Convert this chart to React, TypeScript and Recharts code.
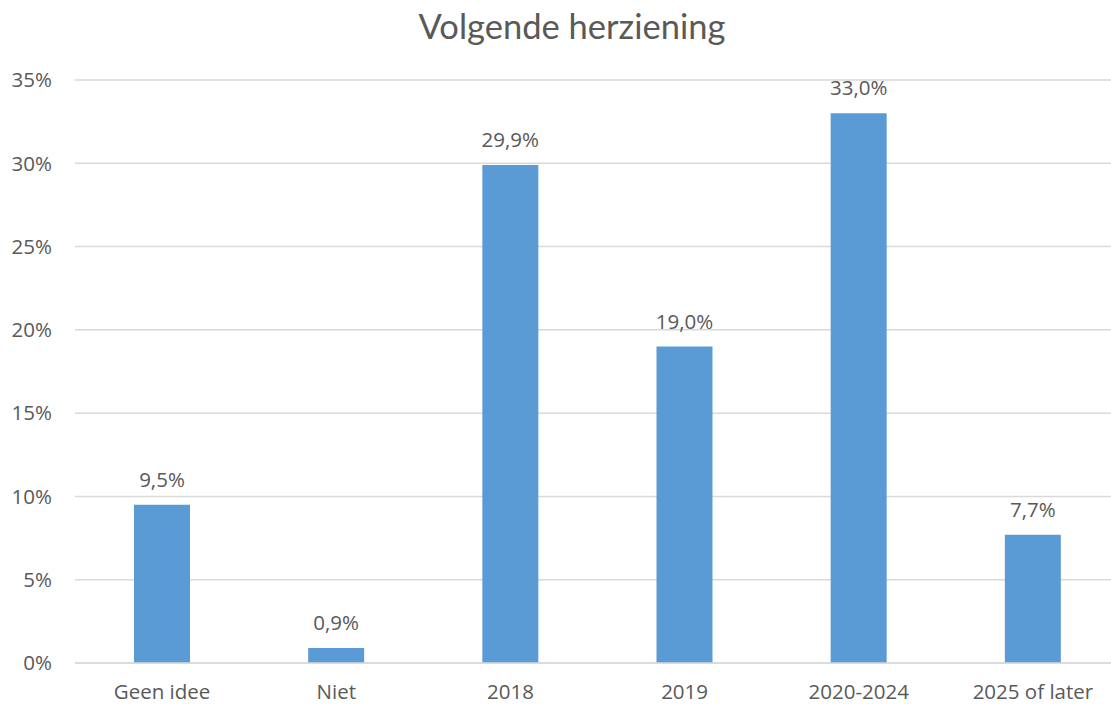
import React from "react";
import {
  BarChart,
  Bar,
  CartesianGrid,
  XAxis,
  YAxis,
  LabelList,
} from "recharts";

const categories = ["Geen idee", "Niet", "2018", "2019", "2020-2024", "2025 of later"];
const shares = [9.5, 0.9, 29.9, 19.0, 33.0, 7.7];
const yTicks = [0, 5, 10, 15, 20, 25, 30, 35];

const data = categories.map((name, i) => ({ name, share: shares[i] }));

const textColor = "#595959";
const tickFont = { fontFamily: "'Open Sans', sans-serif", fontSize: 20.5, fill: textColor };

const pct = (v: number) => `${v}%`;
const pctLabel = (v: any) => `${Number(v).toFixed(1).replace(".", ",")}%`;

const App = () => {
  return (
    <div
      style={{
        position: "absolute",
        left: 0,
        top: 0,
        width: 1111,
        height: 704,
        overflow: "hidden",
        background: "#fff",
      }}
    >
      <div
        style={{
          position: "absolute",
          left: 0,
          top: 6,
          width: 1144,
          textAlign: "center",
          fontFamily: "Lato, sans-serif",
          fontSize: 34.5,
          color: textColor,
          lineHeight: "40px",
        }}
      >
        Volgende herziening
      </div>
      <BarChart
        width={1120}
        height={704}
        data={data}
        margin={{ top: 80, right: 0, bottom: 0, left: 0 }}
      >
        <CartesianGrid vertical={false} stroke="#d9d9d9" strokeWidth={1.5} />
        <XAxis
          dataKey="name"
          axisLine={{ stroke: "#d9d9d9", strokeWidth: 1.5 }}
          tickLine={false}
          tickSize={0}
          tickMargin={21}
          height={41}
          tick={tickFont}
          interval={0}
        />
        <YAxis
          domain={[0, 35]}
          ticks={yTicks}
          tickFormatter={pct}
          axisLine={false}
          tickLine={false}
          tickSize={0}
          tickMargin={23}
          width={75}
          tick={tickFont}
        />
        <Bar dataKey="share" fill="#5b9bd5" barSize={56} isAnimationActive={false}>
          <LabelList
            dataKey="share"
            position="top"
            offset={18}
            formatter={pctLabel}
            style={tickFont}
          />
        </Bar>
      </BarChart>
    </div>
  );
};

export default App;
